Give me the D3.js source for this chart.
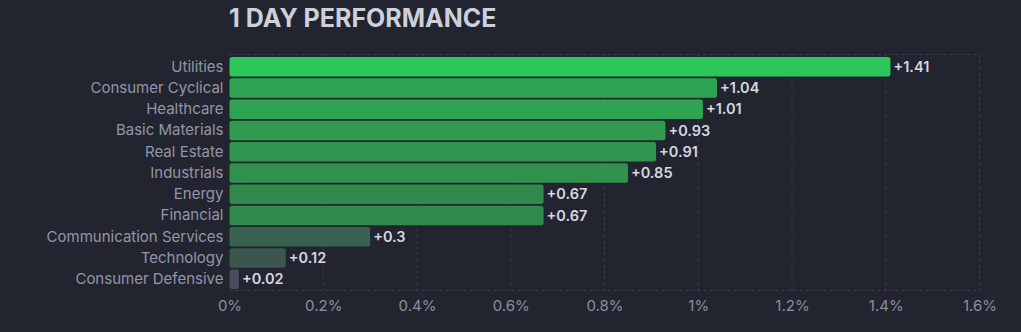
<!DOCTYPE html>
<html><head><meta charset="utf-8">
<script src="https://cdn.jsdelivr.net/npm/d3@7"></script>
<style>
html,body{margin:0;padding:0;background:#22252f;}
svg{display:block;font-family:Inter,"Noto Sans",sans-serif;}
</style></head><body>
<svg id="c" width="1021" height="332"></svg>
<script>
const categories = ["Utilities","Consumer Cyclical","Healthcare","Basic Materials","Real Estate","Industrials","Energy","Financial","Communication Services","Technology","Consumer Defensive"];
const values = [1.41,1.04,1.01,0.93,0.91,0.85,0.67,0.67,0.3,0.12,0.02];
const barColors = ["#2dc65b","#2ea352","#2ea352","#2f9a50","#30964f","#31924e","#318a4c","#318a4c","#3a6250","#3d554f","#494d5d"];
const tickValues = [0,0.2,0.4,0.6,0.8,1,1.2,1.4,1.6];
const title = "1 DAY PERFORMANCE";

const svg = d3.select("#c");
const m = {left:229.5, right:979.5, top:54.5, bottom:290.5};
const x = d3.scaleLinear().domain([0,1.6]).range([m.left,m.right]);
const y = d3.scaleBand().domain(categories).range([57, 289]).paddingInner(0.085).paddingOuter(0);

// grid
const grid = svg.append("g");
grid.selectAll("line.v").data(tickValues.slice(1)).join("line")
  .attr("x1",d=>x(d)).attr("x2",d=>x(d)).attr("y1",m.top).attr("y2",m.bottom)
  .attr("stroke","#3a3e4b").attr("stroke-dasharray","3,3");
grid.append("line").attr("x1",m.left).attr("x2",m.right).attr("y1",m.top).attr("y2",m.top)
  .attr("stroke","#3a3e4b").attr("stroke-dasharray","3,3");
grid.append("line").attr("x1",m.left).attr("x2",m.right).attr("y1",m.bottom).attr("y2",m.bottom)
  .attr("stroke","#3a3e4b").attr("stroke-dasharray","3,3");

// title
svg.append("text").attr("x",229).attr("y",27).text(title)
  .attr("fill","#cdd0da").attr("font-size",25).attr("font-weight",700);

// bars
svg.append("g").selectAll("rect").data(categories).join("rect")
  .attr("x",x(0)).attr("y",d=>y(d)).attr("height",y.bandwidth())
  .attr("width",(d,i)=>x(values[i])-x(0)).attr("rx",2.5)
  .attr("fill",(d,i)=>barColors[i]);

// value labels
svg.append("g").selectAll("text").data(categories).join("text")
  .attr("x",(d,i)=>x(values[i])+3).attr("y",d=>y(d)+y.bandwidth()/2).attr("dy","0.36em")
  .text((d,i)=>"+"+values[i]).attr("fill","#d6d8e0").attr("font-size",14.5).attr("font-weight",600);

// y axis labels
const yAxis = d3.axisLeft(y).tickSize(0).tickPadding(6);
const ya = svg.append("g").attr("transform",`translate(${m.left},0)`).call(yAxis);
ya.select(".domain").remove();
ya.selectAll("text").attr("fill","#9296a8").attr("font-size",15).attr("font-family","Inter,'Noto Sans',sans-serif");

// x axis
const xAxis = d3.axisBottom(x).tickValues(tickValues).tickSize(0).tickPadding(10).tickFormat(d=>d3.format("~g")(d)+"%");
const xa = svg.append("g").attr("transform",`translate(0,${m.bottom})`).call(xAxis);
xa.select(".domain").remove();
xa.selectAll("text").attr("fill","#8a8ea0").attr("font-size",15).attr("font-family","Inter,'Noto Sans',sans-serif");
</script></body></html>
